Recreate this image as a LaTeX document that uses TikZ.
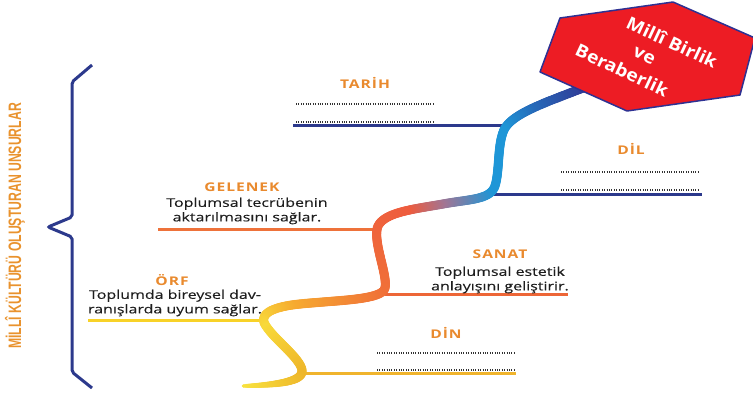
\documentclass[tikz,border=0pt]{standalone}
\usepackage{fontspec}
\setmainfont{Open Sans}[FakeStretch=1.33,FakeBold=0.3]
\newfontfamily\headfont{Open Sans}[FakeStretch=1.3,LetterSpace=8]
\newfontfamily\titlefont{Liberation Sans}[FakeStretch=0.68]
\newfontfamily\hexfont{Open Sans}[FakeStretch=1.1]
\usetikzlibrary{calc,decorations.markings}

\definecolor{navyline}{RGB}{44,57,140}
\definecolor{hexred}{RGB}{237,28,36}
\definecolor{hexedge}{RGB}{46,49,146}
\definecolor{headorange}{RGB}{233,138,46}
\definecolor{titleorange}{RGB}{233,146,45}
\definecolor{gelenekline}{RGB}{238,114,58}
\definecolor{sanatline}{RGB}{237,102,55}
\definecolor{orfline}{RGB}{248,210,40}
\definecolor{dinline}{RGB}{240,180,45}
\definecolor{dotgray}{RGB}{50,50,50}
\definecolor{bodytext}{RGB}{30,30,30}
% stops of the colour run along the curve
\definecolor{gNavy}{RGB}{50,52,145}
\definecolor{gBlue}{RGB}{38,105,185}
\definecolor{gCyan}{RGB}{30,150,215}
\definecolor{gMauve}{RGB}{160,118,150}
\definecolor{gRed}{RGB}{238,92,62}
\definecolor{gOrange}{RGB}{240,112,56}
\definecolor{gAmber}{RGB}{246,170,48}
\definecolor{gYellow}{RGB}{248,218,58}
\definecolor{gGold}{RGB}{238,182,42}
\definecolor{gLemon}{RGB}{248,226,62}

\def\drawbranch{\draw[line width=3pt]}
\def\drawdots{\draw[color=dotgray, line width=1.2pt, dash pattern=on 1pt off 1.4pt]}
\def\headnode{\node[text=headorange,font=\headfont\bfseries\fontsize{12}{14}\selectfont]}
\def\bodynode{\node[align=center,text=bodytext,font=\fontsize{12}{14.5}\selectfont]}
\def\hexnode{\node[text=white,rotate=-25,font=\hexfont\bfseries\fontsize{17.5}{19}\selectfont]}

\newcommand\gradmix[4]{%
  \pgfmathsetmacro\gradpct{max(0,min(100,100*(\gradpos-#1)/(#2-#1)))}%
  \colorlet{gradcol}{#4!\gradpct!#3}}
\newcommand\graddot{%
  \pgfmathsetmacro\gradpos{\pgfkeysvalueof{/pgf/decoration/mark info/distance from start}/\pgfdecoratedpathlength}%
  \ifdim\gradpos pt<0.10pt \gradmix{0}{0.10}{gNavy}{gBlue}\else
  \ifdim\gradpos pt<0.16pt \gradmix{0.10}{0.16}{gBlue}{gCyan}\else
  \ifdim\gradpos pt<0.27pt \gradmix{0.16}{0.27}{gCyan}{gCyan}\else
  \ifdim\gradpos pt<0.35pt \gradmix{0.27}{0.35}{gCyan}{gMauve}\else
  \ifdim\gradpos pt<0.41pt \gradmix{0.35}{0.41}{gMauve}{gRed}\else
  \ifdim\gradpos pt<0.58pt \gradmix{0.41}{0.58}{gRed}{gOrange}\else
  \ifdim\gradpos pt<0.73pt \gradmix{0.58}{0.73}{gOrange}{gAmber}\else
  \ifdim\gradpos pt<0.80pt \gradmix{0.73}{0.80}{gAmber}{gYellow}\else
  \ifdim\gradpos pt<0.90pt \gradmix{0.80}{0.90}{gYellow}{gGold}\else
  \gradmix{0.90}{1.0}{gGold}{gLemon}\fi\fi\fi\fi\fi\fi\fi\fi\fi
  \pgfmathsetmacro\gradrad{\gradpos>0.9 ? 4.6-2.8*(\gradpos-0.9)/0.1 : 4.6}%
  \fill[gradcol] (0,0) circle (\gradrad pt);}

\tikzset{
  gradpath/.style={postaction={decorate},
    decoration={markings, mark=between positions 0 and 1 step 0.0015 with {\graddot}}}
}

\begin{document}
\begin{tikzpicture}[x=1pt,y=-1pt,inner sep=0pt]
\useasboundingbox (0,0) rectangle (753,394);
\clip (0,0) rectangle (753,394);

% ------- title and brace -------
\node[rotate=90,text=titleorange,font=\titlefont\bfseries\fontsize{18}{20}\selectfont] (unsurlar) at (15,226) {MİLLÎ KÜLTÜRÜ OLUŞTURAN UNSURLAR};
\coordinate (tip) at (48,227);
\draw[navyline, line width=3pt, rounded corners=2pt] ($ (tip) + (44,-162) $) -- ($ (tip) + (24,-145) $) -- ($ (tip) + (24,-10) $)
  -- (tip) -- ($ (tip) + (24,10) $) -- ($ (tip) + (24,145) $) -- ($ (tip) + (44,161) $);

% ------- branches, behind the curve -------
\coordinate (tarihend) at (505,125);
\coordinate (dilend) at (493,194);
\coordinate (gelenekend) at (380,229);
\coordinate (sanatend) at (385,294);
\coordinate (orfend) at (266,320);
\coordinate (dinend) at (302,373);
\drawbranch[navyline] ($ (tarihend) - (212,0) $) -- (tarihend);
\drawbranch[navyline] (dilend) -- ++(209,0);
\drawbranch[gelenekline] ($ (gelenekend) - (222,0) $) -- (gelenekend);
\drawbranch[sanatline] (sanatend) -- ++(183,0);
\drawbranch[orfline] ($ (orfend) - (178,0) $) -- (orfend);
\drawbranch[dinline] (dinend) -- ++(214,0);

% ------- the curve, navy at the top and yellow at the foot -------
\path[gradpath] (588,86) .. controls (550,101) and (515,112) .. (505,128)
  .. controls (497,142) and (500,170) .. (495,186)
  .. controls (490,200) and (470,199) .. (443,204)
  .. controls (415,209) and (385,212) .. (378,226)
  .. controls (372,240) and (388,275) .. (385,288)
  .. controls (382,300) and (340,300) .. (300,304)
  .. controls (270,307) and (258,315) .. (266,326)
  .. controls (275,340) and (300,358) .. (302,370)
  .. controls (304,383) and (270,385) .. (243,386);

% ------- hexagon -------
\draw[hexedge, fill=hexred, line width=1.5pt, line join=round] (560,18) -- (673,2) -- (755,38) -- (740,95) -- (627,111) -- (540,72) -- cycle;
\hexnode (milli) at (672,42) {Millî Birlik};
\hexnode (ve) at (644,56) {ve};
\hexnode (beraberlik) at (622,70) {Beraberlik};

% ------- labels -------
\headnode (tarih) at (365,83) {TARİH};
\drawdots ($ (tarih) + (-69,21) $) -- ++(139,0);
\drawdots ($ (tarih) + (-69,39) $) -- ++(139,0);

\headnode (dil) at (631,149) {DİL};
\drawdots ($ (dil) + (-70,23) $) -- ++(138,0);
\drawdots ($ (dil) + (-70,41) $) -- ++(138,0);

\headnode (gelenek) at (242,187) {GELENEK};
\bodynode (gelenektext) at (247,211) {Toplumsal tecrübenin\\aktarılmasını sağlar.};

\headnode (sanat) at (500,254) {SANAT};
\bodynode (sanattext) at (500,280) {Toplumsal estetik\\anlayışını geliştirir.};

\headnode (orf) at (172,280) {ÖRF};
\bodynode (orftext) at (175,303) {Toplumda bireysel dav-\\ranışlarda uyum sağlar.};

\headnode (din) at (446,333) {DİN};
\drawdots ($ (din) + (-69,20) $) -- ++(138,0);
\drawdots ($ (din) + (-69,37) $) -- ++(138,0);
\end{tikzpicture}
\end{document}
